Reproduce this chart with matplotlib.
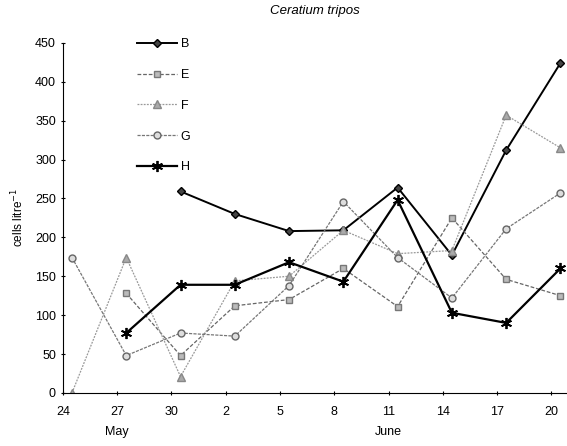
import numpy as np
import matplotlib
matplotlib.use("Agg")
import matplotlib.pyplot as plt

plt.rcParams["font.family"] = ["Liberation Sans", "DejaVu Sans"]

# sampling days (day of May; June 2 = 33)
days = [24.5, 27.5, 30.5, 33.5, 36.5, 39.5, 42.5, 45.5, 48.5, 51.5]
tick_days = [24, 27, 30, 33, 36, 39, 42, 45, 48, 51]
tick_labels = ["24", "27", "30", "2", "5", "8", "11", "14", "17", "20"]

# cells per litre at each station
B = [np.nan, np.nan, 259, 230, 208, 209, 264, 177, 312, 424]
E = [np.nan, 128, 48, 112, 120, 160, 111, 225, 146, 125]
F = [0, 174, 21, 144, 150, 209, 179, 183, 357, 315]
G = [174, 48, 77, 73, 138, 246, 174, 122, 211, 257]
H = [np.nan, 77, 139, 139, 168, 143, 248, 103, 90, 160]

fig = plt.figure(figsize=(5.67, 4.46), dpi=100)
ax = fig.add_axes([0.111, 0.119, 0.887, 0.785])

ax.plot(days, B, color="black", lw=1.4, marker="D", ms=4.5, mfc="#444444",
        mec="black", label="B")
ax.plot(days, E, color="#666666", lw=0.9, ls=(0, (3, 1.5)), marker="s", ms=5,
        mfc="#bbbbbb", mec="#777777", label="E")
ax.plot(days, F, color="#999999", lw=0.9, ls=(0, (1.5, 1)), marker="^", ms=6,
        mfc="#aaaaaa", mec="#888888", label="F")
ax.plot(days, G, color="#777777", lw=0.9, ls=(0, (2.5, 1)), marker="o", ms=5,
        mfc="#dddddd", mec="#666666", label="G")
ax.plot(days, H, color="black", lw=1.6, marker=(6, 2, 0), ms=8, mew=1.3,
        mec="black", label="H")

ax.set_xlim(24, 51.8)
ax.set_ylim(0, 450)
ax.set_xticks(tick_days)
ax.set_xticklabels(tick_labels)
ax.set_yticks(range(0, 451, 50))
ax.tick_params(labelsize=9, length=3, direction="inout")
ax.tick_params(axis="x", pad=8)
ax.spines["top"].set_visible(False)
ax.spines["right"].set_visible(False)

ax.set_ylabel("cells litre$^{-1}$", fontsize=8.5, labelpad=6)
ax.set_title("Ceratium tripos", fontsize=9.5, style="italic", pad=21)

ax.text(27, -0.095, "May", transform=ax.get_xaxis_transform(), ha="center",
        va="top", fontsize=9)
ax.text(42, -0.095, "June", transform=ax.get_xaxis_transform(), ha="center",
        va="top", fontsize=9)

ax.legend(loc="upper left", bbox_to_anchor=(0.125, 1.045), frameon=False,
          fontsize=9, handlelength=3.2, labelspacing=1.5, handletextpad=0.3)

fig.savefig("out.png", dpi=100)
